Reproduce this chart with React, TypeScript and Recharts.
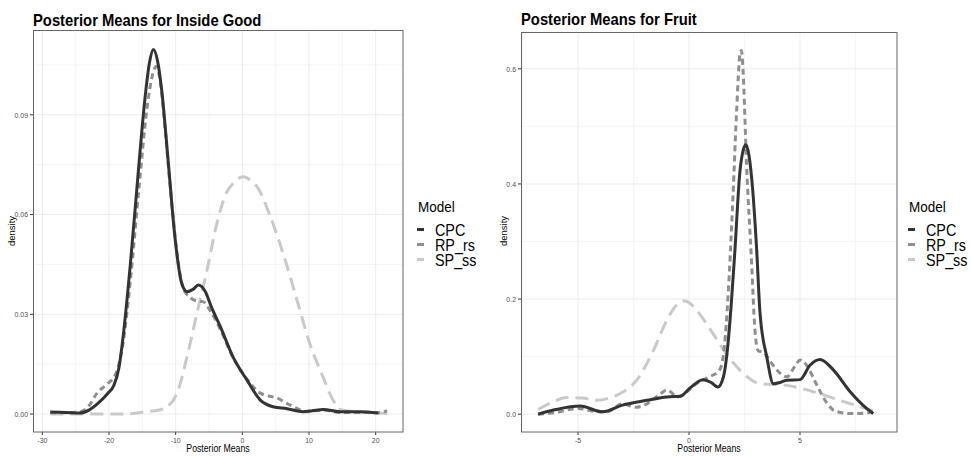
import React from "react";
import { LineChart, Line, XAxis, YAxis, CartesianGrid } from "recharts";

type Pt = { x: number; y: number };
const pts = (rows: number[][]): Pt[] => rows.map(([x, y]) => ({ x, y }));

// ---- Inside Good: kernel density of posterior means, per model ----
const insideCPC = pts([
  [-28.8, 0.0006], [-26.5, 0.0005], [-24.5, 0.0003], [-23, 0.0012], [-21.5, 0.0035],
  [-20.2, 0.0062], [-19.3, 0.0085], [-18.5, 0.014], [-17.9, 0.023], [-16.8, 0.045],
  [-15.6, 0.073], [-14.6, 0.095], [-13.9, 0.106], [-13.35, 0.1096], [-12.7, 0.106],
  [-12.1, 0.0975], [-11.1, 0.0755], [-10.1, 0.053], [-9.1, 0.0394], [-8.3, 0.0368],
  [-7.4, 0.0375], [-6.6, 0.0388], [-5.6, 0.037], [-4.6, 0.032], [-3.3, 0.0263],
  [-1.4, 0.0172], [0.7, 0.0102], [2.7, 0.0042], [4.6, 0.0022], [6.7, 0.0016],
  [9.1, 0.0007], [10.5, 0.001], [12.1, 0.0014], [14.6, 0.0007], [17.6, 0.0007], [20.4, 0.0003],
]);
const insideRP = pts([
  [-28.8, 0.0004], [-26.5, 0.0004], [-24.5, 0.0006], [-23, 0.0025], [-21.8, 0.0063],
  [-20.3, 0.009], [-19, 0.012], [-18, 0.02], [-16.8, 0.04], [-15.5, 0.068],
  [-14.3, 0.092], [-13.4, 0.1025], [-12.95, 0.1045], [-12.3, 0.1], [-11.6, 0.086],
  [-10.8, 0.068], [-9.9, 0.05], [-8.9, 0.038], [-7.8, 0.035], [-6.8, 0.034],
  [-5.9, 0.0338], [-4.8, 0.031], [-3.3, 0.0255], [-1.4, 0.017], [0.7, 0.0105],
  [2.7, 0.0063], [5.2, 0.0048], [7.2, 0.0027], [9.7, 0.0007], [12.1, 0.0012],
  [14.6, 0.0005], [18, 0.0005], [20.5, 0.0004], [21.7, 0.001],
]);
const insideSP = pts([
  [-28.8, 0.0], [-24, 0.0], [-18, 0.0], [-14.3, 0.0007], [-12.5, 0.0012],
  [-11.3, 0.0022], [-9.8, 0.0062], [-8.3, 0.0172], [-6.8, 0.0304], [-5.3, 0.0433],
  [-3.8, 0.0575], [-2.5, 0.066], [-1.2, 0.0698], [0.15, 0.0714], [1.3, 0.0702],
  [2.2, 0.0684], [4.2, 0.0594], [6.1, 0.0484], [8.2, 0.0343], [10.1, 0.0213],
  [12.1, 0.0112], [13.6, 0.0042], [14.9, 0.0012], [17.2, 0.0007], [21.7, 0.0002],
]);

// ---- Fruit ----
const fruitCPC = pts([
  [-6.8, 0.0], [-6.0, 0.008], [-4.9, 0.014], [-3.9, 0.004], [-3.0, 0.0157],
  [-1.9, 0.024], [-1.0, 0.03], [-0.4, 0.031], [0.03, 0.045], [0.63, 0.06],
  [1.0, 0.055], [1.3, 0.047], [1.55, 0.065], [1.75, 0.12], [1.9, 0.19],
  [2.06, 0.28], [2.29, 0.42], [2.45, 0.46], [2.56, 0.468], [2.7, 0.45],
  [2.83, 0.407], [3.04, 0.291], [3.2, 0.175], [3.5, 0.1], [3.8, 0.053],
  [4.1, 0.055], [4.4, 0.059], [5.0, 0.06], [5.45, 0.085], [5.9, 0.095],
  [6.5, 0.077], [7.26, 0.039], [8.0, 0.01], [8.3, 0.001],
]);
const fruitRP = pts([
  [-6.8, 0.0], [-6.0, 0.003], [-5.0, 0.01], [-4.3, 0.005], [-3.7, 0.004],
  [-3.0, 0.018], [-2.4, 0.012], [-1.9, 0.018], [-1.3, 0.035], [-1.0, 0.042],
  [-0.5, 0.03], [0.0, 0.042], [0.33, 0.053], [0.93, 0.065], [1.38, 0.077],
  [1.6, 0.12], [1.75, 0.2], [1.98, 0.378], [2.14, 0.523], [2.3, 0.627],
  [2.36, 0.632], [2.43, 0.6], [2.59, 0.436], [2.82, 0.262], [2.97, 0.146],
  [3.12, 0.11], [3.35, 0.108], [3.6, 0.095], [4.0, 0.075], [4.4, 0.065],
  [4.8, 0.085], [5.0, 0.094], [5.3, 0.085], [5.7, 0.055], [6.2, 0.02],
  [6.6, 0.005], [7.3, 0.001], [8.0, 0.002], [8.3, 0.004],
]);
const fruitSP = pts([
  [-6.8, 0.008], [-6.2, 0.02], [-5.5, 0.029], [-4.8, 0.028], [-4.2, 0.024],
  [-3.6, 0.028], [-3.1, 0.036], [-2.36, 0.059], [-1.6, 0.111], [-1.0, 0.163],
  [-0.6, 0.188], [-0.26, 0.197], [0.0, 0.194], [0.33, 0.181], [1.08, 0.14],
  [1.68, 0.105], [2.44, 0.071], [3.2, 0.053], [4.4, 0.05], [5.6, 0.039],
  [6.8, 0.024], [7.7, 0.013], [8.45, 0.004],
]);

// ---- axis ticks ----
const insideXTicks = [-30, -20, -10, 0, 10, 20];
const insideXMinor = [-25, -15, -5, 5, 15];
const insideYTicks = [0, 0.03, 0.06, 0.09];
const insideYMinor = [0.015, 0.045, 0.075, 0.105];
const fruitXTicks = [-5, 0, 5];
const fruitXMinor = [-7.5, -2.5, 2.5, 7.5];
const fruitYTicks = [0, 0.2, 0.4, 0.6];
const fruitYMinor = [0.1, 0.3, 0.5];

const modelNames = ["CPC", "RP_rs", "SP_ss"];

const FONT = '"Liberation Sans", Arial, Helvetica, sans-serif';
const SQUEEZE = 0.87;

const styles = [
  { stroke: "#333333", dash: undefined as string | undefined },
  { stroke: "#8f8f8f", dash: "6 4" },
  { stroke: "#c9c9c9", dash: "13 7" },
];

const makeTick = (axis: "x" | "y", digits: number) => (props: any) => {
  const { x, y, payload } = props;
  return (
    <g transform={`translate(${x},${y}) scale(${SQUEEZE},1)`}>
      <text
        x={0}
        y={0}
        dy={axis === "x" ? 5.8 : 2.8}
        textAnchor={axis === "x" ? "middle" : "end"}
        fontSize={8}
        fontFamily={FONT}
        fill="#4d4d4d"
      >
        {Number(payload.value).toFixed(digits)}
      </text>
    </g>
  );
};

type PanelProps = {
  left: number;
  width: number;
  margin: { top: number; right: number; bottom: number; left: number };
  xDomain: [number, number];
  yDomain: [number, number];
  xTicks: number[];
  xMinor: number[];
  yTicks: number[];
  yMinor: number[];
  xDigits: number;
  yDigits: number;
  series: Pt[][];
};

function Panel(p: PanelProps) {
  return (
    <div style={{ position: "absolute", left: p.left, top: 0 }}>
      <LineChart width={p.width} height={456} margin={p.margin}>
        <CartesianGrid
          stroke="#f2f2f2"
          strokeWidth={0.8}
          horizontalValues={p.yMinor}
          verticalValues={p.xMinor}
        />
        <CartesianGrid
          stroke="#ebebeb"
          strokeWidth={1}
          horizontalValues={p.yTicks}
          verticalValues={p.xTicks}
        />
        <XAxis
          type="number"
          dataKey="x"
          domain={p.xDomain}
          ticks={p.xTicks}
          allowDataOverflow
          height={24}
          axisLine={false}
          tickLine={{ stroke: "#333333" }}
          tickSize={3}
          tickMargin={2}
          tick={makeTick("x", p.xDigits)}
          interval={0}
        />
        <YAxis
          type="number"
          dataKey="y"
          domain={p.yDomain}
          ticks={p.yTicks}
          allowDataOverflow
          width={25}
          axisLine={false}
          tickLine={{ stroke: "#333333" }}
          tickSize={3}
          tickMargin={2}
          tick={makeTick("y", p.yDigits)}
          interval={0}
        />
        {[2, 1, 0].map((i) => (
          <Line
            key={modelNames[i]}
            name={modelNames[i]}
            data={p.series[i]}
            dataKey="y"
            type="monotone"
            stroke={styles[i].stroke}
            strokeWidth={3}
            strokeDasharray={styles[i].dash}
            strokeLinecap="butt"
            dot={false}
            activeDot={false}
            isAnimationActive={false}
          />
        ))}
      </LineChart>
    </div>
  );
}

function Legend({ x }: { x: number }) {
  return (
    <g fontFamily={FONT} fill="#000">
      <text transform={`translate(${x + 1},212) scale(${SQUEEZE},1)`} fontSize={15.5}>
        Model
      </text>
      {modelNames.map((name, i) => {
        const cy = 229.5 + i * 15;
        return (
          <g key={name}>
            <line
              x1={x}
              x2={x + 7}
              y1={cy}
              y2={cy}
              stroke={styles[i].stroke}
              strokeWidth={3}
            />
            <text
              transform={`translate(${x + 18},${cy + 6}) scale(${SQUEEZE},1)`}
              fontSize={16.5}
            >
              {name}
            </text>
          </g>
        );
      })}
    </g>
  );
}

export default function App() {
  return (
    <div
      style={{
        position: "absolute",
        left: 0,
        top: 0,
        width: 971,
        height: 456,
        background: "#ffffff",
        overflow: "hidden",
      }}
    >
      <Panel
        left={0}
        width={410}
        margin={{ top: 30, right: 7, bottom: 0, left: 8 }}
        xDomain={[-31.4, 24.1]}
        yDomain={[-0.0054, 0.1155]}
        xTicks={insideXTicks}
        xMinor={insideXMinor}
        yTicks={insideYTicks}
        yMinor={insideYMinor}
        xDigits={0}
        yDigits={2}
        series={[insideCPC, insideRP, insideSP]}
      />
      <Panel
        left={480}
        width={420}
        margin={{ top: 32, right: 3, bottom: 0, left: 16 }}
        xDomain={[-7.57, 9.37]}
        yDomain={[-0.031, 0.664]}
        xTicks={fruitXTicks}
        xMinor={fruitXMinor}
        yTicks={fruitYTicks}
        yMinor={fruitYMinor}
        xDigits={0}
        yDigits={1}
        series={[fruitCPC, fruitRP, fruitSP]}
      />
      <svg
        width={971}
        height={456}
        style={{ position: "absolute", left: 0, top: 0, pointerEvents: "none" }}
      >
        {/* panel borders */}
        <rect x={33.5} y={30.5} width={369.5} height={401.5} fill="none" stroke="#666666" strokeWidth={1} />
        <rect x={521.5} y={32.5} width={375.5} height={399.5} fill="none" stroke="#666666" strokeWidth={1} />

        {/* titles */}
        <text transform={`translate(33,26) scale(${SQUEEZE},1)`} fontFamily={FONT} fontWeight="bold" fontSize={17} fill="#000">
          Posterior Means for Inside Good
        </text>
        <text transform={`translate(521,25) scale(${SQUEEZE},1)`} fontFamily={FONT} fontWeight="bold" fontSize={17} fill="#000">
          Posterior Means for Fruit
        </text>

        {/* axis titles */}
        <text transform={`translate(218,452) scale(${SQUEEZE},1)`} textAnchor="middle" fontFamily={FONT} fontSize={10} fill="#000">
          Posterior Means
        </text>
        <text transform={`translate(709,452) scale(${SQUEEZE},1)`} textAnchor="middle" fontFamily={FONT} fontSize={10} fill="#000">
          Posterior Means
        </text>
        <text transform="translate(15,231) rotate(-90)" textAnchor="middle" fontFamily={FONT} fontSize={9.5} fill="#000">
          density
        </text>
        <text transform="translate(506.5,231) rotate(-90)" textAnchor="middle" fontFamily={FONT} fontSize={9.5} fill="#000">
          density
        </text>

        <Legend x={417} />
        <Legend x={908} />
      </svg>
    </div>
  );
}
